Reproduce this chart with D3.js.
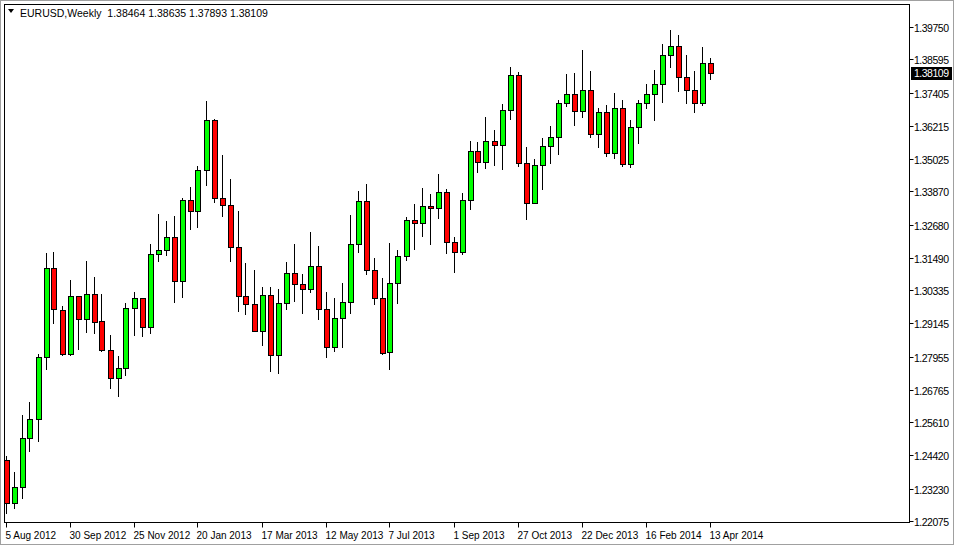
<!DOCTYPE html>
<html><head><meta charset="utf-8">
<script src="https://cdn.jsdelivr.net/npm/d3@7"></script>
<style>body{margin:0;background:#fff}svg{display:block}text{font-family:"Liberation Sans",Arial,sans-serif;font-size:10.5px}</style>
</head><body><svg id="c" width="954" height="545"></svg>
<script>
const title = "EURUSD,Weekly  1.38464 1.38635 1.37893 1.38109";
const opens  = [1.2426,1.2272,1.2329,1.2504,1.2572,1.2794,1.3113,1.2962,1.2805,1.3013,1.2930,1.3020,1.2923,1.2819,1.2719,1.2755,1.2970,1.3005,1.2902,1.3163,1.3177,1.3224,1.3066,1.3356,1.3317,1.3463,1.3642,1.3363,1.3338,1.3188,1.3013,1.2984,1.2887,1.3016,1.2801,1.2988,1.3095,1.3055,1.3038,1.3120,1.2966,1.2830,1.2934,1.2991,1.3199,1.3352,1.3106,1.3005,1.2812,1.3059,1.3156,1.3284,1.3274,1.3335,1.3327,1.3385,1.3206,1.3170,1.3356,1.3531,1.3492,1.3567,1.3553,1.3678,1.3803,1.3488,1.3345,1.3481,1.3549,1.3581,1.3703,1.3735,1.3674,1.3750,1.3592,1.3671,1.3524,1.3685,1.3485,1.3617,1.3703,1.3735,1.3771,1.3875,1.3907,1.3796,1.3750,1.3703,1.38464];
const highs  = [1.2440,1.2383,1.2587,1.2633,1.2805,1.3166,1.3170,1.2977,1.3070,1.3013,1.3138,1.3081,1.3020,1.2873,1.2798,1.2988,1.3027,1.3005,1.3199,1.3306,1.3281,1.3299,1.3363,1.3402,1.3478,1.3710,1.3646,1.3517,1.3431,1.3317,1.3131,1.3106,1.3045,1.3045,1.3038,1.3134,1.3199,1.3091,1.3242,1.3191,1.3027,1.3005,1.3059,1.3302,1.3388,1.3413,1.3149,1.3077,1.3202,1.3177,1.3295,1.3342,1.3399,1.3378,1.3449,1.3395,1.3224,1.3381,1.3567,1.3564,1.3653,1.3607,1.3700,1.3832,1.3814,1.3546,1.3503,1.3578,1.3621,1.3714,1.3807,1.3810,1.3893,1.3818,1.3685,1.3696,1.3739,1.3714,1.3642,1.3714,1.3771,1.3821,1.3914,1.3964,1.3946,1.3875,1.3818,1.3903,1.38635];
const lows   = [1.2236,1.2254,1.2290,1.2458,1.2494,1.2751,1.2916,1.2801,1.2801,1.2823,1.2884,1.2880,1.2816,1.2683,1.2655,1.2730,1.2873,1.2869,1.2880,1.3138,1.3159,1.2991,1.3009,1.3252,1.3259,1.3410,1.3349,1.3299,1.3138,1.2959,1.2948,1.2887,1.2837,1.2744,1.2737,1.2966,1.2995,1.2952,1.3027,1.2930,1.2794,1.2816,1.2830,1.2952,1.3170,1.3091,1.2984,1.2805,1.2751,1.2988,1.3141,1.3181,1.3227,1.3199,1.3292,1.3166,1.3098,1.3163,1.3324,1.3456,1.3471,1.3481,1.3467,1.3646,1.3478,1.3288,1.3345,1.3395,1.3488,1.3521,1.3692,1.3624,1.3653,1.3581,1.3546,1.3514,1.3506,1.3478,1.3474,1.3560,1.3685,1.3642,1.3707,1.3832,1.3746,1.3703,1.3671,1.3696,1.37893];
const closes = [1.2272,1.2329,1.2504,1.2572,1.2794,1.3113,1.2966,1.2805,1.3013,1.2930,1.3020,1.2920,1.2819,1.2719,1.2755,1.2970,1.3005,1.2902,1.3163,1.3177,1.3224,1.3066,1.3356,1.3317,1.3463,1.3642,1.3363,1.3338,1.3188,1.3013,1.2984,1.2887,1.3016,1.2801,1.2988,1.3095,1.3055,1.3038,1.3120,1.2966,1.2830,1.2934,1.2991,1.3199,1.3352,1.3106,1.3005,1.2809,1.3059,1.3156,1.3284,1.3274,1.3335,1.3327,1.3385,1.3206,1.3170,1.3356,1.3531,1.3492,1.3567,1.3553,1.3678,1.3803,1.3488,1.3345,1.3481,1.3549,1.3581,1.3703,1.3735,1.3674,1.3750,1.3592,1.3671,1.3524,1.3685,1.3485,1.3617,1.3703,1.3735,1.3771,1.3875,1.3907,1.3796,1.3750,1.3703,1.3846,1.38109];
const priceTicks = [1.39750,1.38595,1.37405,1.36215,1.35025,1.33870,1.32680,1.31490,1.30335,1.29145,1.27955,1.26765,1.25610,1.24420,1.23230,1.22075];
const dateTickIdx = [0,8,16,24,32,40,48,56,64,72,80,88];
const dateLabels = ["5 Aug 2012","30 Sep 2012","25 Nov 2012","20 Jan 2013","17 Mar 2013","12 May 2013","7 Jul 2013","1 Sep 2013","27 Oct 2013","22 Dec 2013","16 Feb 2014","13 Apr 2014"];
const lastPrice = 1.38109;

const svg = d3.select("#c");
const L=4.5,T=4.5,R=909.5,B=522.5;
const x = d3.scaleLinear().domain([0,88]).range([5.5,709.5]);
const y = d3.scaleLinear().domain([1.22075,1.39750]).range([521,27]);
svg.append("rect").attr("x",0.5).attr("y",0.5).attr("width",953).attr("height",544).attr("fill","#fff").attr("stroke","#a0a0a0");
svg.append("rect").attr("x",L).attr("y",T).attr("width",R-L).attr("height",B-T).attr("fill","#fff").attr("stroke","#000");

const g = svg.append("g");
const data = opens.map((o,i)=>({i,o,h:highs[i],l:lows[i],c:closes[i]}));
g.selectAll("line.w").data(data).join("line")
 .attr("x1",d=>Math.round(x(d.i))+0.5).attr("x2",d=>Math.round(x(d.i))+0.5)
 .attr("y1",d=>Math.round(y(d.h))).attr("y2",d=>Math.min(Math.round(y(d.l))+1,B))
 .attr("stroke","#000");
g.selectAll("rect.b").data(data).join("rect")
 .attr("x",d=>Math.round(x(d.i))-2+0.5)
 .attr("y",d=>Math.round(y(Math.max(d.o,d.c)))+0.5)
 .attr("width",5)
 .attr("height",d=>Math.max(1,Math.round(y(Math.min(d.o,d.c)))-Math.round(y(Math.max(d.o,d.c)))))
 .attr("fill",d=>d.c>=d.o?"#00ff00":"#ff0000").attr("stroke","#000");

priceTicks.forEach(p=>{
  const yy=Math.round(y(p))+0.5;
  svg.append("line").attr("x1",R).attr("x2",R+4).attr("y1",yy).attr("y2",yy).attr("stroke","#000");
  svg.append("text").attr("x",914).attr("y",yy+4).attr("textLength",35).text(p.toFixed(5));
});
const ly=Math.round(y(lastPrice));
svg.append("rect").attr("x",911).attr("y",ly-6).attr("width",41).attr("height",13).attr("fill","#000");
svg.append("text").attr("x",914).attr("y",ly+4).attr("fill","#fff").attr("textLength",35).text(lastPrice.toFixed(5));
dateTickIdx.forEach((k,j)=>{
  const xx=Math.round(x(k))+0.5;
  svg.append("line").attr("x1",xx).attr("x2",xx).attr("y1",B).attr("y2",B+5).attr("stroke","#000");
  svg.append("text").attr("x",xx-1).attr("y",539).style("font-size","10px").text(dateLabels[j]);
});
svg.append("path").attr("d","M8,9 L14,9 L11,13 Z").attr("fill","#000");
svg.append("text").attr("x",20).attr("y",17).attr("xml:space","preserve").style("white-space","pre").text(title);
</script></body></html>
